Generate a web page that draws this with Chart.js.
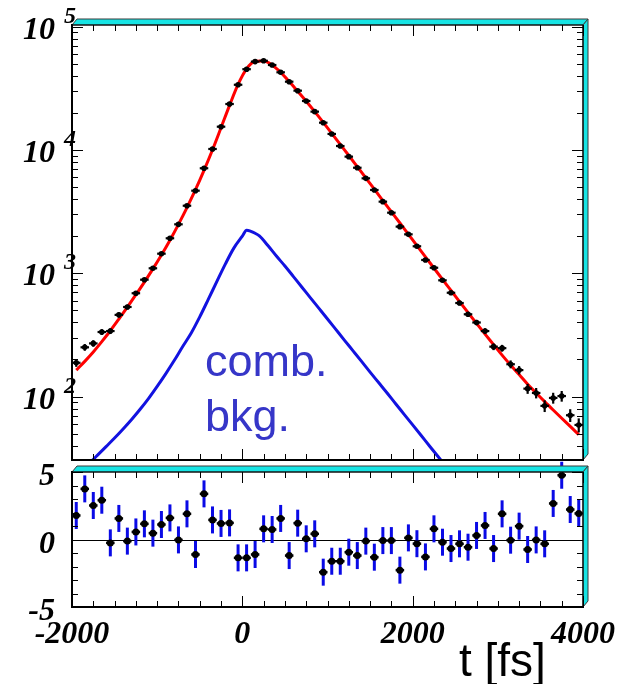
<!DOCTYPE html>
<html>
<head>
<meta charset="utf-8">
<script src="https://cdn.jsdelivr.net/npm/chart.js@4/dist/chart.umd.min.js"></script>
<style>
  html, body { margin: 0; padding: 0; background: #fff; }
  #wrap { position: relative; width: 631px; height: 684px; overflow: hidden; background: #fff; }
  #wrap canvas { position: absolute; left: 0; }
  #decay { top: 0; }
  #pull { top: 440px; }
</style>
</head>
<body>
<div id="wrap">
  <canvas id="decay" width="631" height="466"></canvas>
  <canvas id="pull" width="631" height="244"></canvas>
</div>
<script>
// Proper-time bins (fs), 100 fs wide
const binCenters = [
  -1950, -1850, -1750, -1650, -1550, -1450, -1350, -1250, -1150, -1050,
  -950, -850, -750, -650, -550, -450, -350, -250, -150, -50,
  50, 150, 250, 350, 450, 550, 650, 750, 850, 950,
  1050, 1150, 1250, 1350, 1450, 1550, 1650, 1750, 1850, 1950,
  2050, 2150, 2250, 2350, 2450, 2550, 2650, 2750, 2850, 2950,
  3050, 3150, 3250, 3350, 3450, 3550, 3650, 3750, 3850, 3950
];

// Candidates per bin
const counts = [
  188, 251, 270, 334, 340, 460, 533, 689, 887, 1098,
  1442, 1923, 2495, 3532, 4677, 7110, 10190, 15450, 23600, 33800,
  45200, 52100, 52900, 48900, 42660, 35810, 30270, 24970, 20460, 16650,
  13490, 10770, 8830, 7180, 5890, 4740, 3810, 3100, 2390, 2070,
  1656, 1282, 1109, 877, 695, 574, 465, 399, 340, 254,
  247, 183, 164, 116, 107, 84.1, 97.5, 101, 70.6, 58.9
];

// Fitted total at each bin centre
const fitValues = [
  164, 193, 230, 279, 342, 425, 531, 670, 849, 1086,
  1406, 1854, 2494, 3412, 4764, 6839, 10046, 15170, 23010, 34040,
  45500, 52360, 52720, 48870, 42560, 35890, 29920, 24830, 20460, 16750,
  13650, 11090, 9016, 7311, 5929, 4808, 3890, 3155, 2559, 2070,
  1679, 1358, 1102, 893, 726, 589, 480, 392, 321, 264,
  217, 180, 151, 126, 107, 91.0, 77.8, 66.7, 57.3, 49.2
];

// Combinatorial background component
const bkgTimes = [
  -1950, -1800, -1700, -1600, -1500, -1400, -1300, -1200, -1100, -1000,
  -900, -800, -700, -600, -500, -400, -300, -200, -100, 0,
  50, 100, 150, 200, 300, 400, 500, 600, 700, 800,
  900, 1000, 1100, 1200, 1300, 1400, 1500, 1600, 1700, 1800,
  1900, 2000, 2100, 2200, 2300, 2400, 2500
];
const bkgValues = [
  22.7, 28.6, 33.5, 39.3, 46.1, 54.6, 65.2, 78.9, 96.8, 121,
  153, 196, 255, 328, 443, 614, 855, 1186, 1600, 2000,
  2235, 2190, 2110, 2010, 1679, 1380, 1146, 940, 771, 632,
  519, 426, 349, 286, 235, 193, 158, 130, 107, 87.5,
  71.8, 58.9, 48.3, 39.6, 32.5, 26.7, 21.9
];

// Normalised residuals (data - fit) / sigma
const pulls = [
  1.78, 3.75, 2.52, 2.91, -0.25, 1.56, -0.12, 0.56, 1.16, 0.47,
  1.11, 1.60, -0.03, 1.90, -1.11, 3.38, 1.45, 1.19, 1.23, -1.36,
  -1.36, -1.11, 0.79, 0.74, 1.56, -1.19, 1.21, 0.05, 0.42, -2.42,
  -1.61, -1.61, -0.94, -1.19, -0.12, -1.31, -0.08, -0.08, -2.27, 0.12,
  -0.31, -1.29, 0.79, -0.20, -0.67, -0.32, -0.57, 0.30, 1.04, -0.67,
  1.90, -0.05, 0.99, -0.74, -0.03, -0.32, 2.67, 4.76, 2.22, 1.93
];

// Axis labels
const xTickValues = [-2000, 0, 2000, 4000];
const xTickLabels = ['-2000', '0', '2000', '4000'];
const decadeExponents = ['2', '3', '4', '5'];
const pullTickValues = [-5, 0, 5];
const pullTickLabels = ['-5', '0', '5'];
const xTitle = 't [fs]';
const bkgLabel = ['comb.', 'bkg.'];

const BIN_HALF = 50;
const LABEL_FONT = 'bold italic 32px "Liberation Serif", "DejaVu Serif", serif';
const EXP_FONT = 'bold italic 24px "Liberation Serif", "DejaVu Serif", serif';
const CYAN = '#17e4e4';

function line(ctx, x1, y1, x2, y2) {
  ctx.beginPath(); ctx.moveTo(x1, y1); ctx.lineTo(x2, y2); ctx.stroke();
}

// Frame with the raised top/right faces of the pad
function drawFrame(ctx, a) {
  const dx = 5, dy = -6;
  ctx.save();
  ctx.fillStyle = CYAN;
  ctx.strokeStyle = '#3a3a3a';
  ctx.lineWidth = 1;
  ctx.lineJoin = 'round';
  ctx.beginPath();
  ctx.moveTo(a.left, a.top); ctx.lineTo(a.right, a.top);
  ctx.lineTo(a.right + dx, a.top + dy); ctx.lineTo(a.left + dx, a.top + dy);
  ctx.closePath(); ctx.fill(); ctx.stroke();
  ctx.beginPath();
  ctx.moveTo(a.right, a.top); ctx.lineTo(a.right + dx, a.top + dy);
  ctx.lineTo(a.right + dx, a.bottom + dy); ctx.lineTo(a.right, a.bottom);
  ctx.closePath(); ctx.fill(); ctx.stroke();
  ctx.strokeStyle = '#000';
  ctx.lineWidth = 2;
  line(ctx, a.left, a.top - 1, a.left, a.bottom + 1);
  line(ctx, a.left - 1, a.bottom, a.right + 1, a.bottom);
  ctx.lineWidth = 1.2;
  line(ctx, a.left, a.top, a.right, a.top);
  line(ctx, a.right, a.top, a.right, a.bottom);
  ctx.restore();
}

function drawXTicks(ctx, xs, a) {
  ctx.save();
  ctx.strokeStyle = '#000';
  ctx.lineWidth = 1;
  for (let v = xs.min; v <= xs.max; v += 250) {
    const px = Math.round(xs.getPixelForValue(v)) + 0.5;
    const len = (v % 2000 === 0) ? 11 : 6;
    line(ctx, px, a.bottom, px, a.bottom - len);
    line(ctx, px, a.top, px, a.top + len);
  }
  ctx.restore();
}

const decadePlugin = {
  id: 'decayAxes',
  afterDatasetsDraw(chart) {
    const ctx = chart.ctx;
    const xs = chart.scales.x, ys = chart.scales.y;
    ctx.save();
    // error bars: bin width horizontally, Poisson error vertically
    ctx.strokeStyle = '#000';
    ctx.lineWidth = 2.2;
    binCenters.forEach((t, i) => {
      const c = counts[i];
      const py = ys.getPixelForValue(c);
      line(ctx, xs.getPixelForValue(t - BIN_HALF), py, xs.getPixelForValue(t + BIN_HALF), py);
      const e = Math.sqrt(c);
      const px = xs.getPixelForValue(t);
      line(ctx, px, ys.getPixelForValue(c + e), px, ys.getPixelForValue(c - e));
    });
    ctx.restore();
  },
  afterDraw(chart) {
    const ctx = chart.ctx, a = chart.chartArea;
    const xs = chart.scales.x, ys = chart.scales.y;
    drawFrame(ctx, a);
    drawXTicks(ctx, xs, a);
    // logarithmic ticks on both sides
    ctx.save();
    ctx.strokeStyle = '#000';
    ctx.lineWidth = 1;
    for (let e = 1; e <= 5; e++) {
      for (let m = 1; m <= 9; m++) {
        const v = m * Math.pow(10, e);
        if (v < ys.min || v > ys.max) continue;
        const py = Math.round(ys.getPixelForValue(v)) + 0.5;
        const len = (m === 1) ? 11 : 6;
        line(ctx, a.left, py, a.left + len, py);
        line(ctx, a.right, py, a.right - len, py);
      }
    }
    // decade labels 10^n
    ctx.fillStyle = '#000';
    decadeExponents.forEach((ex) => {
      const py = ys.getPixelForValue(Math.pow(10, Number(ex)));
      ctx.font = LABEL_FONT;
      ctx.textAlign = 'right';
      ctx.textBaseline = 'alphabetic';
      ctx.fillText('10', 55, py + 12);
      ctx.font = EXP_FONT;
      ctx.textAlign = 'left';
      ctx.fillText(ex, 64, py - 4);
    });
    // background label
    ctx.fillStyle = '#3636c8';
    ctx.font = '45px "Liberation Sans", Arial, sans-serif';
    ctx.textAlign = 'left';
    ctx.fillText(bkgLabel[0], 205, 376);
    ctx.fillText(bkgLabel[1], 205, 431);
    ctx.restore();
  }
};

const pullPlugin = {
  id: 'pullAxes',
  beforeDatasetsDraw(chart) {
    const ctx = chart.ctx, a = chart.chartArea;
    const xs = chart.scales.x, ys = chart.scales.y;
    ctx.save();
    // zero line
    ctx.strokeStyle = '#000';
    ctx.lineWidth = 1;
    const y0 = Math.round(ys.getPixelForValue(0)) + 0.5;
    line(ctx, a.left, y0, a.right, y0);
    // unit error bars
    ctx.strokeStyle = '#0a0ae6';
    ctx.lineWidth = 3;
    binCenters.forEach((t, i) => {
      const px = xs.getPixelForValue(t);
      line(ctx, px, ys.getPixelForValue(pulls[i] + 1), px, ys.getPixelForValue(pulls[i] - 1));
    });
    ctx.strokeStyle = '#000';
    ctx.lineWidth = 2.5;
    binCenters.forEach((t, i) => {
      const py = ys.getPixelForValue(pulls[i]);
      line(ctx, xs.getPixelForValue(t - BIN_HALF), py, xs.getPixelForValue(t + BIN_HALF), py);
    });
    ctx.restore();
  },
  afterDraw(chart) {
    const ctx = chart.ctx, a = chart.chartArea;
    const xs = chart.scales.x, ys = chart.scales.y;
    drawFrame(ctx, a);
    drawXTicks(ctx, xs, a);
    ctx.save();
    ctx.strokeStyle = '#000';
    ctx.lineWidth = 1;
    for (let v = -5; v <= 5; v++) {
      const py = Math.round(ys.getPixelForValue(v)) + 0.5;
      const len = (v % 5 === 0) ? 11 : 6;
      line(ctx, a.left, py, a.left + len, py);
      line(ctx, a.right, py, a.right - len, py);
    }
    ctx.fillStyle = '#000';
    ctx.font = LABEL_FONT;
    ctx.textBaseline = 'alphabetic';
    ctx.textAlign = 'right';
    pullTickValues.forEach((v, i) => {
      ctx.fillText(pullTickLabels[i], 55, ys.getPixelForValue(v) + 13);
    });
    ctx.textAlign = 'center';
    xTickValues.forEach((v, i) => {
      ctx.fillText(xTickLabels[i], xs.getPixelForValue(v), a.bottom + 36);
    });
    ctx.font = '46px "Liberation Sans", Arial, sans-serif';
    ctx.textAlign = 'left';
    ctx.fillText(xTitle, 459, a.bottom + 69);
    ctx.restore();
  }
};

const common = {
  responsive: false,
  animation: false,
  devicePixelRatio: 1,
  events: [],
  plugins: { legend: { display: false }, tooltip: { enabled: false } }
};

new Chart(document.getElementById('decay'), {
  type: 'line',
  data: {
    datasets: [
      {
        label: 'data',
        data: binCenters.map((t, i) => ({ x: t, y: counts[i] })),
        showLine: false,
        pointRadius: 2.8,
        pointBorderWidth: 0,
        pointBackgroundColor: '#000',
        order: 0
      },
      {
        label: 'fit',
        data: binCenters.map((t, i) => ({ x: t, y: fitValues[i] })),
        borderColor: '#ff0000',
        borderWidth: 3,
        pointRadius: 0,
        cubicInterpolationMode: 'monotone',
        clip: 0,
        order: 1
      },
      {
        label: 'comb. bkg.',
        data: bkgTimes.map((t, i) => ({ x: t, y: bkgValues[i] })),
        borderColor: '#1212e0',
        borderWidth: 3,
        pointRadius: 0,
        cubicInterpolationMode: 'monotone',
        clip: 0,
        order: 2
      }
    ]
  },
  options: Object.assign({}, common, {
    layout: { padding: { left: 72, right: 48, top: 25, bottom: 6 } },
    scales: {
      x: { type: 'linear', min: -2000, max: 4000, display: false },
      y: { type: 'logarithmic', min: 30.6, max: 103200, display: false }
    }
  }),
  plugins: [decadePlugin]
});

new Chart(document.getElementById('pull'), {
  type: 'line',
  data: {
    datasets: [
      {
        label: 'pull',
        data: binCenters.map((t, i) => ({ x: t, y: pulls[i] })),
        showLine: false,
        pointRadius: 3.5,
        pointBorderWidth: 0,
        pointBackgroundColor: '#000'
      }
    ]
  },
  options: Object.assign({}, common, {
    layout: { padding: { left: 72, right: 48, top: 32, bottom: 77 } },
    scales: {
      x: { type: 'linear', min: -2000, max: 4000, display: false },
      y: { type: 'linear', min: -5, max: 5, display: false }
    }
  }),
  plugins: [pullPlugin]
});
</script>
</body>
</html>
